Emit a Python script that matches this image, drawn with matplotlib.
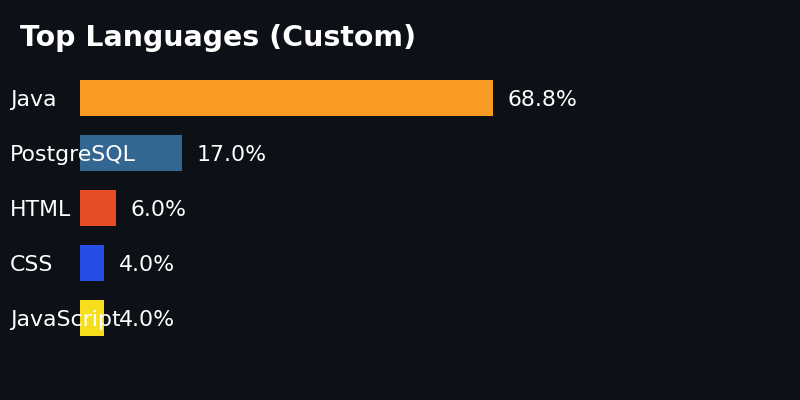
import matplotlib
matplotlib.use("Agg")
import matplotlib.pyplot as plt
from matplotlib.transforms import blended_transform_factory

# ── Data ──────────────────────────────────────────────────────────────────────
languages = ["Java", "PostgreSQL", "HTML", "CSS", "JavaScript"]
percents  = [68.8, 17.0, 6.0, 4.0, 4.0]
colors    = ["#f99b22", "#336791", "#e54d26", "#264de4", "#f7df1e"]
title     = "Top Languages (Custom)"

BG = "#0d1117"
FG = "#ffffff"
PX = 72 / 100  # one pixel in points at dpi 100

fig = plt.figure(figsize=(8, 4), dpi=100, facecolor=BG)
# bars start at x=80px, 100% spans 600px; rows 55px apart, first centred at y=98px
ax = fig.add_axes([80 / 800, 1 - 345.5 / 400, 600 / 800, 275 / 400])
ax.set_facecolor(BG)
ax.set_xlim(0, 100)
ax.set_ylim(len(languages) - 0.5, -0.5)
ax.axis("off")

ypos = range(len(languages))
ax.barh(ypos, percents, height=36 / 55, color=colors, zorder=1)

label_tf = blended_transform_factory(fig.transFigure, ax.transData)
for y, name, pct in zip(ypos, languages, percents):
    ax.annotate(name, xy=(10 / 800, y), xycoords=label_tf,
                xytext=(0, -2 * PX), textcoords="offset points", color=FG,
                fontsize=15.8, va="center", ha="left", zorder=3)
    ax.annotate(f"{pct:.1f}%", xy=(pct, y), xytext=(15 * PX, -2 * PX),
                textcoords="offset points", color=FG, fontsize=15.8,
                va="center", ha="left", zorder=3)

fig.text(20 / 800, 1 - 46 / 400, title, color=FG, fontsize=20.4,
         fontweight="bold", ha="left", va="baseline")

fig.savefig("out.png", dpi=100, facecolor=BG)
